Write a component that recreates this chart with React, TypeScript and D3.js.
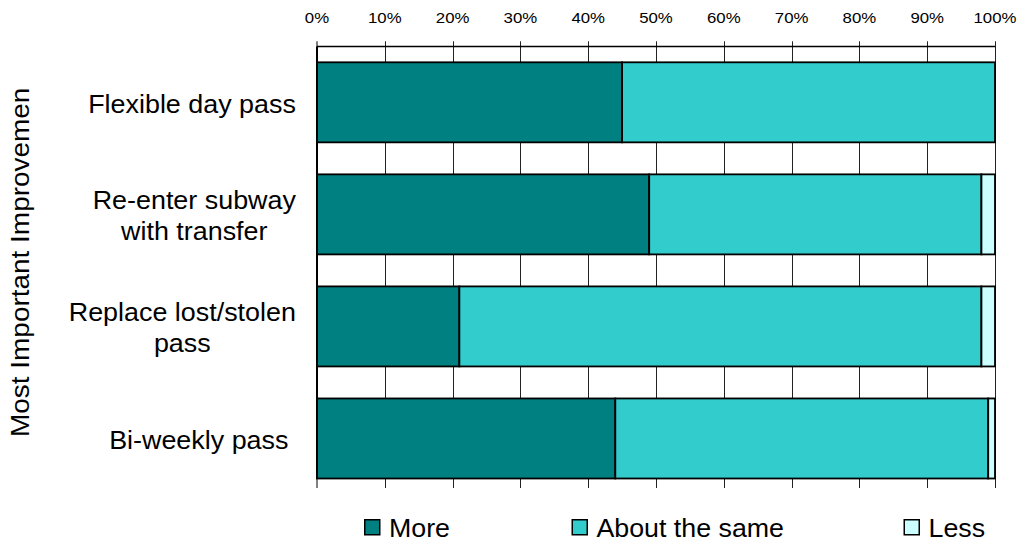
import React, { useEffect, useRef } from "react";
import * as d3 from "d3";

// ---- data ----
const categories = [
  "Flexible day pass",
  "Re-enter subway\nwith transfer",
  "Replace lost/stolen\npass",
  "Bi-weekly pass ",
];
const moreValues = [45, 49, 21, 44];
const sameValues = [55, 49, 77, 55];
const lessValues = [0, 2, 2, 1];
const seriesNames = ["More", "About the same", "Less"];
const seriesColors = ["#008080", "#33CCCC", "#CCFFFF"];
const tickValues = [0, 10, 20, 30, 40, 50, 60, 70, 80, 90, 100];
const tickLabels = tickValues.map((v) => `${v}%`);
const axisTitle = "Most Important Improvement";

const FONT = "'Liberation Sans', Arial, Helvetica, sans-serif";

export default function App() {
  const ref = useRef<SVGSVGElement>(null);

  useEffect(() => {
    const svg = d3.select(ref.current);
    svg.selectAll("*").remove();

    const W = 1021;
    const H = 546;
    const x = d3.scaleLinear().domain([0, 100]).range([317, 995]);
    const y = d3
      .scaleBand<string>()
      .domain(categories)
      .range([46.3, 494.5])
      .paddingInner(0.2857)
      .paddingOuter(0.14285);
    const bw = y.bandwidth();
    const plotTop = 46.5;
    const barBottom = (y(categories[categories.length - 1]) as number) + bw;
    const tickTop = 41.3;
    const tickBottom = 488;

    svg.append("rect").attr("width", W).attr("height", H).attr("fill", "#fff");

    // gridlines / ticks
    const px = (v: number) => Math.round(x(v)) + 0.5;
    svg
      .append("g")
      .selectAll("line")
      .data(tickValues.slice(1))
      .join("line")
      .attr("x1", (d) => px(d))
      .attr("x2", (d) => px(d))
      .attr("y1", tickTop)
      .attr("y2", tickBottom)
      .attr("stroke", "#222")
      .attr("stroke-width", 1);

    // top border line
    svg
      .append("line")
      .attr("x1", x(0))
      .attr("x2", x(100))
      .attr("y1", plotTop)
      .attr("y2", plotTop)
      .attr("stroke", "#000")
      .attr("stroke-width", 1.5);

    // tick labels
    svg
      .append("g")
      .selectAll("text")
      .data(tickValues)
      .join("text")
      .attr("transform", (d) => `translate(${x(d)},23.3) scale(1.12,1)`)
      .attr("text-anchor", "middle")
      .attr("font-family", FONT)
      .attr("font-size", 15)
      .attr("fill", "#000")
      .text((d, i) => tickLabels[i]);

    // stacked bars
    const rows = categories.map((c, i) => ({
      cat: c,
      More: moreValues[i],
      "About the same": sameValues[i],
      Less: lessValues[i],
    }));
    const stack = d3.stack<any>().keys(seriesNames)(rows);
    const color = d3.scaleOrdinal<string, string>().domain(seriesNames).range(seriesColors);

    stack.forEach((s) => {
      svg
        .append("g")
        .selectAll("rect")
        .data(s.filter((d) => d[1] - d[0] > 0))
        .join("rect")
        .attr("x", (d) => x(d[0]))
        .attr("width", (d) => x(d[1]) - x(d[0]))
        .attr("y", (d) => y(d.data.cat) as number)
        .attr("height", bw)
        .attr("fill", color(s.key))
        .attr("stroke", "#000")
        .attr("stroke-width", 1.8);
    });

    // left axis line
    svg
      .append("line")
      .attr("x1", x(0))
      .attr("x2", x(0))
      .attr("y1", plotTop)
      .attr("y2", barBottom)
      .attr("stroke", "#000")
      .attr("stroke-width", 2);
    svg
      .append("line")
      .attr("x1", x(0))
      .attr("x2", x(0))
      .attr("y1", tickTop)
      .attr("y2", tickBottom)
      .attr("stroke", "#000")
      .attr("stroke-width", 1);

    // category labels: right-aligned block, lines centred inside
    const labelRight = 296;
    const lineGap = 31;
    const sx = 1.035;
    categories.forEach((c) => {
      const lines = c.split("\n");
      const cy = (y(c) as number) + bw / 2;
      const g = svg.append("g");
      const texts = lines.map((ln, i) =>
        g
          .append("text")
          .attr("font-family", FONT)
          .attr("font-size", 26)
          .attr("fill", "#000")
          .attr("text-anchor", "middle")
          .style("white-space", "pre")
          .text(ln)
      );
      const widths = texts.map((t) => (t.node() as SVGTextElement).getComputedTextLength() * sx);
      const maxW = Math.max(...widths);
      texts.forEach((t, i) =>
        t.attr(
          "transform",
          `translate(${labelRight - maxW / 2},${cy + 10.5 + (i - (lines.length - 1) / 2) * lineGap}) scale(${sx},1)`
        )
      );
    });

    // y-axis title (clipped at top as in the reference)
    const defs = svg.append("defs");
    defs
      .append("clipPath")
      .attr("id", "titleClip")
      .append("rect")
      .attr("x", 0)
      .attr("y", 87)
      .attr("width", 60)
      .attr("height", H - 87);
    svg
      .append("g")
      .attr("clip-path", "url(#titleClip)")
      .append("text")
      .attr("transform", "translate(29,437) rotate(-90) scale(1.075,1)")
      .attr("font-family", FONT)
      .attr("font-size", 26)
      .attr("fill", "#000")
      .text(axisTitle);

    // legend
    const legendX = [364, 571.5, 903.5];
    const lg = svg
      .append("g")
      .selectAll("g")
      .data(seriesNames)
      .join("g")
      .attr("transform", (d, i) => `translate(${legendX[i]},0)`);
    lg.append("rect")
      .attr("x", 0.75)
      .attr("y", 519.75)
      .attr("width", 15)
      .attr("height", 15)
      .attr("fill", (d) => color(d))
      .attr("stroke", "#000")
      .attr("stroke-width", 1.5);
    lg.append("text")
      .attr("transform", "translate(25,537) scale(1.03,1)")
      .attr("font-family", FONT)
      .attr("font-size", 26)
      .attr("fill", "#000")
      .text((d) => d);
  }, []);

  return (
    <svg
      ref={ref}
      width={1021}
      height={546}
      style={{ position: "absolute", left: 0, top: 0, display: "block" }}
    />
  );
}
